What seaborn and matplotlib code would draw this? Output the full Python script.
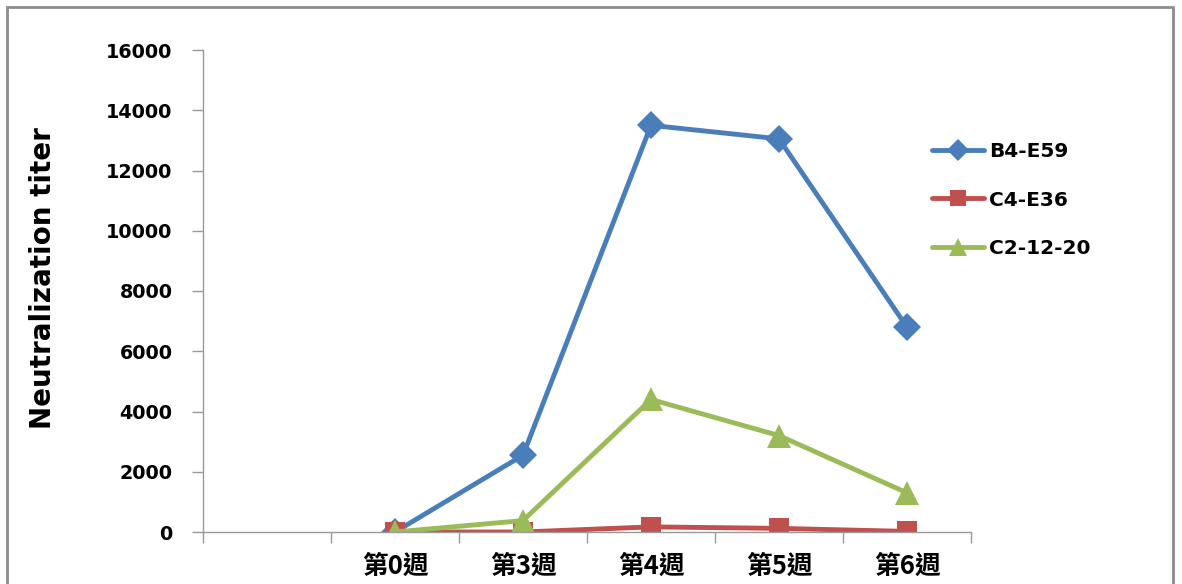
import numpy as np
import pandas as pd
import seaborn as sns
import matplotlib
matplotlib.use("Agg")
import matplotlib.pyplot as plt
from matplotlib.patches import Rectangle

weeks = ["第0週", "第3週", "第4週", "第5週", "第6週"]
b4_e59 = [0, 2550, 13500, 13050, 6800]
c4_e36 = [0, 0, 170, 120, 20]
c2_12_20 = [0, 380, 4400, 3200, 1300]
series_names = ["B4-E59", "C4-E36", "C2-12-20"]
y_ticks = [0, 2000, 4000, 6000, 8000, 10000, 12000, 14000, 16000]

sns.set_theme(style="white")
plt.rcParams['font.family'] = ['Noto Sans CJK TC', 'DejaVu Sans']
plt.rcParams['text.color'] = 'black'
plt.rcParams['xtick.color'] = 'black'
plt.rcParams['ytick.color'] = 'black'
plt.rcParams['axes.labelcolor'] = 'black'

rows = []
for name, vals in zip(series_names, [b4_e59, c4_e36, c2_12_20]):
    for i, (w, v) in enumerate(zip(weeks, vals)):
        rows.append({"pos": i + 1, "week": w, "value": v, "series": name})
df = pd.DataFrame(rows)

fig = plt.figure(figsize=(11.82, 5.84), dpi=100)
ax = fig.add_axes([203/1182, 1 - 532/584, (971-203)/1182, (532-50)/584])

palette = {"B4-E59": "#4A7EBB", "C4-E36": "#C0504D", "C2-12-20": "#9BBB59"}
markers = {"B4-E59": "D", "C4-E36": "s", "C2-12-20": "^"}
sizes = {"B4-E59": 14.5, "C4-E36": 15, "C2-12-20": 17}

for name in series_names:
    sub = df[df["series"] == name]
    sns.lineplot(data=sub, x="pos", y="value", ax=ax, color=palette[name],
                 marker=markers[name], markersize=sizes[name], linewidth=3.5,
                 markeredgewidth=0, label=name)

ax.set_xlim(-0.5, 5.5)
ax.set_ylim(0, 16000)
ax.set_yticks(y_ticks)
ax.set_yticklabels([str(t) for t in y_ticks], fontsize=13.8, fontweight='bold', family=['DejaVu Sans'])
ax.set_xticks(np.arange(1, 6))
ax.set_xticklabels(weeks, fontsize=18.5, fontweight='bold')
ax.set_xticks(np.arange(-0.5, 6.0, 1.0), minor=True)
ax.tick_params(axis='x', which='major', length=0, pad=15)
ax.tick_params(axis='x', which='minor', length=8, width=1, color='#999999', direction='out', bottom=True)
ax.tick_params(axis='y', which='major', length=8, width=1, color='#999999', direction='out', left=True, pad=14)
ax.set_xlabel("")
ax.set_ylabel("Neutralization titer", fontsize=20, fontweight='bold', family=['DejaVu Sans'])
ax.yaxis.set_label_coords((57 - 203) / 768, (532 - 278) / 482)

for s in ["top", "right"]:
    ax.spines[s].set_visible(False)
for s in ["left", "bottom"]:
    ax.spines[s].set_color('#999999')
    ax.spines[s].set_linewidth(1)

leg = ax.legend(loc='center left', bbox_to_anchor=((932 - 203) / 768, (532 - 200) / 482),
                frameon=False, borderpad=0,
                handlelength=2.6, handletextpad=0.25, labelspacing=1.45, borderaxespad=0,
                markerscale=0.8,
                prop={'family': 'DejaVu Sans', 'weight': 'bold', 'size': 14.5})

fig.patches.append(Rectangle((7/1182, -0.1), (1173-7)/1182, 1.1 - 7/584,
                             transform=fig.transFigure, fill=False,
                             edgecolor='#8c8c8c', linewidth=2))

fig.savefig("out.png", dpi=100)
